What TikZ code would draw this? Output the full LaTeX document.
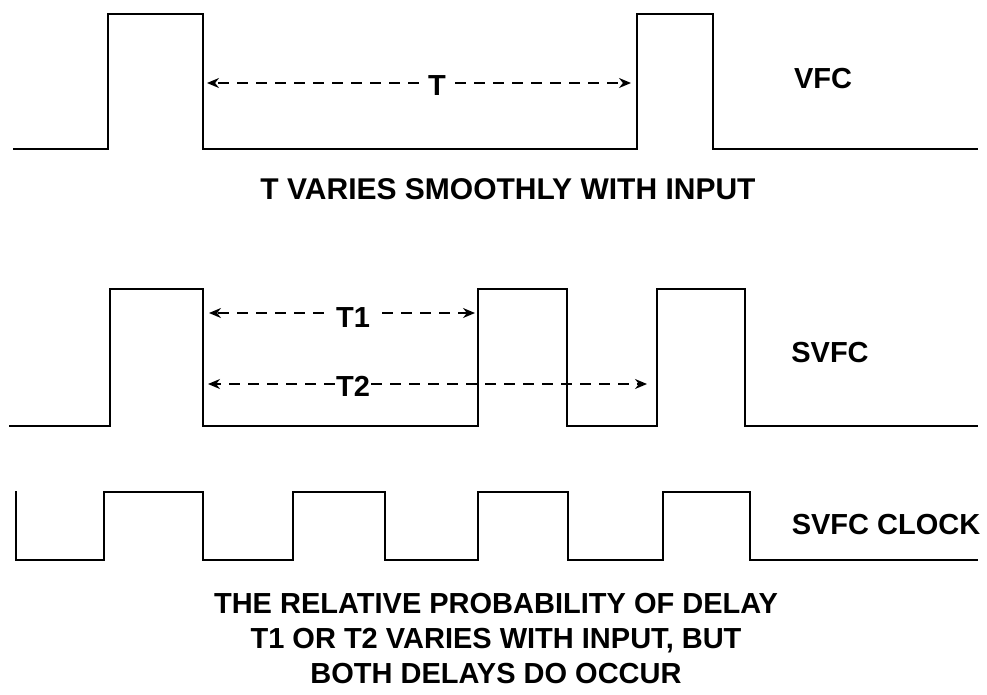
\documentclass[tikz,border=0pt]{standalone}
\usepackage{fontspec}
\setmainfont{Liberation Sans}
\usetikzlibrary{arrows.meta}

\begin{document}
\begin{tikzpicture}
[
    x = 1pt, y = -1pt,
    wave/.style={draw, line width = 2pt, line join = miter},
    dim/.style={draw, dash pattern = on 11pt off 8pt, line width = 1.5pt, -{Stealth[length = 12pt, width = 10pt]}},
    lbl/.style={font = \fontsize{29}{35}\selectfont\bfseries, inner sep = 0pt},
    gap/.style={lbl, inner xsep = 9pt},
]
\useasboundingbox (0,0) rectangle (987,694);

% VFC waveform
\draw[wave] (13,149) -| (108,14) -| (203,149) -| (637,14) -| (713,149) -- (978,149);
\coordinate (vl) at (207,83);
\coordinate (vr) at (631,83);
\node[gap] (t) at (437,86) {T};
\draw[dim] (t.west |- vl) -- (vl);
\draw[dim] (t.east |- vr) -- (vr);
\node[lbl] (vfc) at (823,79) {VFC};
\node[lbl, font = \fontsize{30}{35}\selectfont\bfseries] (cap1) at (508,189) {T VARIES SMOOTHLY WITH INPUT};

% SVFC waveform
\draw[wave] (9,426) -| (110,289) -| (203,426) -| (478,289) -| (567,426) -| (657,289) -| (745,426) -- (978,426);
\coordinate (al) at (209,313);
\coordinate (ar) at (475,313);
\coordinate (bl) at (208,384);
\coordinate (br) at (647,384);
\node[gap, inner xsep = 12pt] (t1) at (353,318) {T1};
\node[lbl, inner xsep = 1pt] (t2) at (353,386) {T2};
\draw[dim] (t1.west |- al) -- (al);
\draw[dim] (t1.east |- ar) -- (ar);
\draw[dim] (t2.west |- bl) -- (bl);
\draw[dim] (t2.east |- br) -- (br);
\node[lbl] (svfc) at (830,353) {SVFC};

% SVFC clock
\draw[wave] (16,491) -- (16,560) -| (104,492) -| (203,560) -| (293,492) -| (385,560) -| (478,492) -| (568,560) -| (663,492) -| (750,560) -- (978,560);
\node[lbl] (clk) at (886,525) {SVFC CLOCK};
\node[lbl, align = center] (cap2) at (496,639) {THE RELATIVE PROBABILITY OF DELAY\\T1 OR T2 VARIES WITH INPUT, BUT\\BOTH DELAYS DO OCCUR};
\end{tikzpicture}
\end{document}
